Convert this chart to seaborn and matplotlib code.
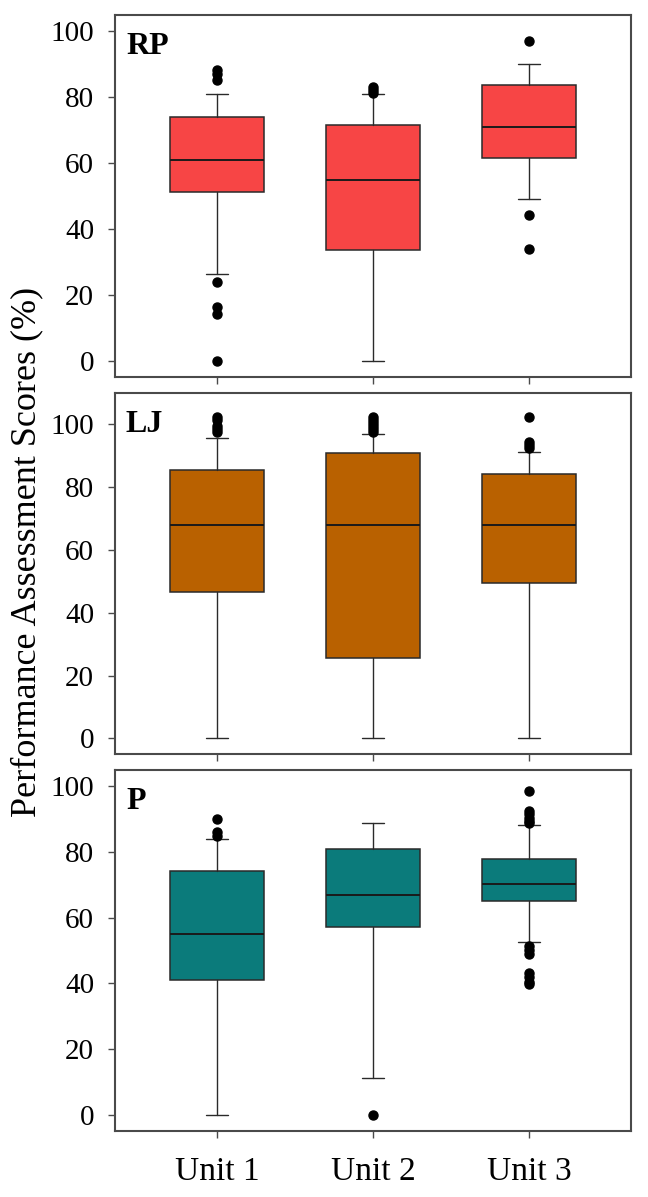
import matplotlib
matplotlib.use("Agg")
import matplotlib.pyplot as plt
import seaborn as sns

# ---- data ----
units = ["Unit 1", "Unit 2", "Unit 3"]
panels = ["RP", "LJ", "P"]
colors = {"RP": "#F74545", "LJ": "#B96100", "P": "#0B7B7B"}
ylims = {"RP": (-5, 105), "LJ": (-5, 110), "P": (-5, 105)}
yticks = [0, 20, 40, 60, 80, 100]

# order per unit: whisker low, Q1, median, Q3, whisker high
rp_whislo = [26.4, 0.0, 49.2]
rp_q1 = [51.3, 33.6, 61.5]
rp_med = [61.0, 55.0, 71.1]
rp_q3 = [74.1, 71.5, 83.8]
rp_whishi = [81.0, 81.0, 90.0]
rp_fliers = [[88.2, 87.0, 85.4, 24.0, 16.4, 14.0, 0.0],
             [83.2, 82.3, 81.4],
             [97.0, 44.1, 34.0]]

lj_whislo = [0.0, 0.0, 0.0]
lj_q1 = [46.6, 25.7, 49.6]
lj_med = [67.9, 67.9, 67.9]
lj_q3 = [85.5, 90.8, 84.3]
lj_whishi = [95.8, 96.8, 91.2]
lj_fliers = [[102.5, 101.5, 99.5, 98.5, 97.5],
             [102.5, 101.5, 100.5, 99.5, 98.5, 97.5],
             [102.2, 94.5, 93.5, 92.5]]

p_whislo = [0.0, 11.1, 52.5]
p_q1 = [40.9, 57.3, 65.0]
p_med = [55.0, 66.9, 70.4]
p_q3 = [74.1, 81.0, 78.0]
p_whishi = [83.9, 89.0, 88.3]
p_fliers = [[90.1, 86.0, 85.0],
            [0.0],
            [98.6, 92.5, 91.5, 90.5, 89.5, 88.8, 51.5, 50.3, 49.0, 43.2, 42.0, 40.5, 39.8]]

stats_src = {
    "RP": (rp_whislo, rp_q1, rp_med, rp_q3, rp_whishi, rp_fliers),
    "LJ": (lj_whislo, lj_q1, lj_med, lj_q3, lj_whishi, lj_fliers),
    "P": (p_whislo, p_q1, p_med, p_q3, p_whishi, p_fliers),
}

sns.set_theme(style="ticks")
plt.rcParams["font.family"] = ["Liberation Serif", "DejaVu Serif"]
plt.rcParams["text.color"] = "black"
plt.rcParams["xtick.labelcolor"] = "black"
plt.rcParams["ytick.labelcolor"] = "black"

W, H = 648, 1197
fig = plt.figure(figsize=(W / 100, H / 100), dpi=100)
left_px, right_px = 115, 631
panel_px = [(15, 377), (393, 754), (770, 1131)]

edge = "#2a2a2a"
spine_c = "#4a4a4a"
for i, name in enumerate(panels):
    top, bot = panel_px[i]
    ax = fig.add_axes([left_px / W, (H - bot) / H, (right_px - left_px) / W, (bot - top) / H])
    wlo, q1, med, q3, whi, fl = stats_src[name]
    bstats = []
    for j in range(len(units)):
        bstats.append(dict(whislo=wlo[j], q1=q1[j], med=med[j], q3=q3[j],
                           whishi=whi[j], fliers=fl[j], label=units[j]))
    ax.bxp(bstats, positions=range(len(units)), widths=0.6, capwidths=0.135,
           patch_artist=True, showfliers=True,
           boxprops=dict(facecolor=colors[name], edgecolor=edge, linewidth=1.1),
           medianprops=dict(color="#1a1a1a", linewidth=1.4),
           whiskerprops=dict(color=edge, linewidth=1.0),
           capprops=dict(color=edge, linewidth=1.0),
           flierprops=dict(marker="o", markerfacecolor="black",
                           markeredgecolor="black", markersize=6.5))
    ax.set_xlim(-0.654, 2.654)
    ax.set_ylim(*ylims[name])
    ax.set_yticks(yticks)
    ax.set_yticklabels([str(t) for t in yticks], fontsize=21, color="black")
    ax.set_xticks(range(len(units)))
    if i == 2:
        ax.set_xticklabels(units, fontsize=24, color="black")
    else:
        ax.set_xticklabels([])
    ax.tick_params(axis="y", length=5, width=1.0, color=spine_c, pad=10)
    ax.tick_params(axis="x", length=5, width=1.0, color=spine_c, pad=13)
    for s in ax.spines.values():
        s.set_color(spine_c)
        s.set_linewidth(1.5)
    ax.text(11 / (right_px - left_px), 1 - 17 / (bot - top), name,
            transform=ax.transAxes, fontsize=23, fontweight="bold",
            va="top", ha="left", color="black")

fig.text(27 / W, 1 - 552 / H, "Performance Assessment Scores (%)", rotation=90,
         fontsize=26, va="center", ha="center", color="black")

fig.savefig("out.png", dpi=100)
